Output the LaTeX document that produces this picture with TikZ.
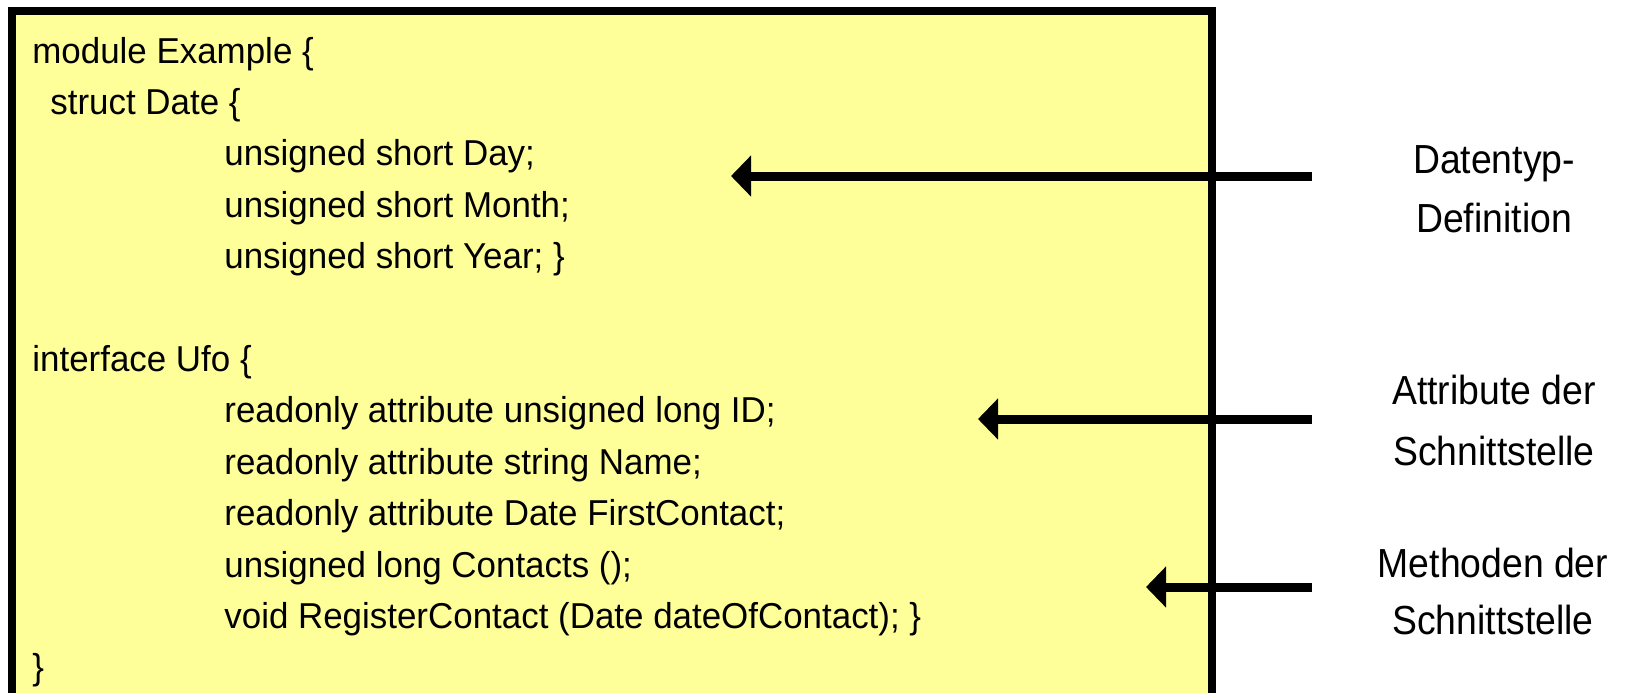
\documentclass[tikz,border=0pt]{standalone}
\usepackage{fontspec}
\setmainfont{Liberation Sans}
\newfontfamily\codefont[FakeStretch=0.97]{Liberation Sans}
\newfontfamily\lblfont[FakeStretch=0.92]{Liberation Sans}
\usetikzlibrary{arrows.meta}
\definecolor{boxyellow}{HTML}{FFFF99}
\tikzset{
  code/.style={anchor=base west, inner sep=0pt, font=\codefont\fontsize{18pt}{25.7pt}\selectfont},
  lbl/.style={anchor=base, inner sep=0pt, font=\lblfont\fontsize{20.3pt}{29pt}\selectfont},
  pointer/.style={line width=4.5pt, -{Triangle[length=10pt,width=20pt]}},
}
\begin{document}
\begin{tikzpicture}[x=0.5pt,y=-0.5pt]
\useasboundingbox (0,0) rectangle (1626,692);
\clip (0,0) rectangle (1626,692);
\draw[line width=4pt, fill=boxyellow] (12,11) rectangle (1212,702);
% code lines
\node[code] (l0)  at (32,63)  {module Example \{};
\node[code] (l1)  at (50,114.4) {struct Date \{};
\node[code] (l2)  at (224,165.8) {unsigned short Day;};
\node[code] (l3)  at (224,217.2) {unsigned short Month;};
\node[code] (l4)  at (224,268.6) {unsigned short Year; \}};
\node[code] (l6)  at (32,371.4) {interface Ufo \{};
\node[code] (l7)  at (224,422.8) {readonly attribute unsigned long ID;};
\node[code] (l8)  at (224,474.2) {readonly attribute string Name;};
\node[code] (l9)  at (224,525.6) {readonly attribute Date FirstContact;};
\node[code] (l10) at (224,577) {unsigned long Contacts ();};
\node[code] (l11) at (224,628.4) {void RegisterContact (Date dateOfContact); \}};
\node[code] (l12) at (32,679.8) {\}};
% labels
\node[lbl] (t1a) at (1494,173) {Datentyp-};
\node[lbl] (t1b) at (1494,232) {Definition};
\node[lbl] (t2a) at (1494,404) {Attribute der};
\node[lbl] (t2b) at (1494,465) {Schnittstelle};
\node[lbl] (t3a) at (1493,577) {Methoden der};
\node[lbl] (t3b) at (1493,634) {Schnittstelle};
% arrows
\coordinate (s1) at (1312,176); \coordinate (e1) at (731,176);
\coordinate (s2) at (1312,419); \coordinate (e2) at (978,419);
\coordinate (s3) at (1312,587); \coordinate (e3) at (1146,587);
\draw[pointer] (s1) -- (e1);
\draw[pointer] (s2) -- (e2);
\draw[pointer] (s3) -- (e3);
\end{tikzpicture}
\end{document}
